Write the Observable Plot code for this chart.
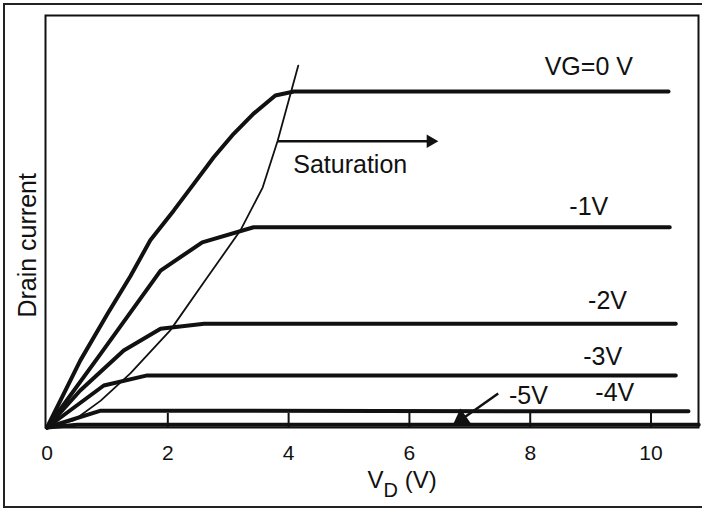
<!DOCTYPE html>
<html><head><meta charset="utf-8">
<script src="https://cdn.jsdelivr.net/npm/d3@7"></script>
<script src="https://cdn.jsdelivr.net/npm/@observablehq/plot@0.6"></script>
<style>
html,body{margin:0;padding:0;background:#fff;}
#wrap{position:relative;width:702px;height:509px;overflow:hidden;background:#fff;}
#wrap svg{position:absolute;left:0;top:0;}
#border{position:absolute;left:3px;top:3px;width:712px;height:505px;border:2px solid #222;box-sizing:border-box;pointer-events:none;}
</style></head><body><div id="wrap"><div id="border"></div></div>
<script>
// Drain characteristics: [VD (V), drain current (relative units)]
const curveVG0 = [[0,0],[0.55,1.99],[1.0,3.38],[1.38,4.5],[1.71,5.57],[2.1,6.46],[2.43,7.25],[2.76,8.04],[3.09,8.74],[3.42,9.34],[3.78,9.88],[4.09,10.0],[10.29,10.0]];
const curveVGm1 = [[0,0],[0.89,2.2],[1.88,4.67],[2.57,5.51],[3.42,5.96],[10.31,5.96]];
const curveVGm2 = [[0,0],[0.55,1.1],[1.27,2.29],[1.88,2.94],[2.6,3.09],[10.41,3.09]];
const curveVGm3 = [[0,0],[0.94,1.25],[1.66,1.55],[10.41,1.55]];
const curveVGm4 = [[0,0],[0.89,0.5],[10.62,0.48]];
const curveVGm5 = [[0,0],[0.5,0.08],[10.79,0.08]];
// saturation boundary (VD,sat)
const boundary = [[0,0],[0.44,0.21],[0.89,0.8],[1.38,1.61],[2.04,2.89],[2.62,4.38],[3.2,5.86],[3.57,7.14],[3.82,8.54],[4.16,10.77]];

const gateNames = ["VG=0 V","-1V","-2V","-3V","-4V","-5V"];
const gateCurves = [curveVG0, curveVGm1, curveVGm2, curveVGm3, curveVGm4, curveVGm5];
// label anchors (data units)
const labelX = [8.97, 8.97, 9.28, 9.2, 9.4, 7.97];
const labelY = [10.48, 6.31, 3.54, 1.85, 0.8, 0.71];

const xTicks = [0, 2, 4, 6, 8, 10];
const satText = {text: "Saturation", x: 5.02, y: 7.56};
const arrows = [
  {x1: 3.82, y1: 8.52, x2: 6.35, y2: 8.52, angle: 90, r: 5},
  {x1: 7.47, y1: 1.01, x2: 6.86, y2: 0.24, angle: 235, r: 7}
];

const rows = gateNames.flatMap((g, i) => gateCurves[i].map(([vd, id]) => ({gate: g, vd, id})));
const labels = gateNames.map((g, i) => ({text: g, x: labelX[i], y: labelY[i]}));
const ink = "#111";

const chart = Plot.plot({
  width: 702, height: 509,
  marginLeft: 45, marginTop: 15, marginRight: 4, marginBottom: 82,
  style: {fontFamily: "'Liberation Sans', Arial, Helvetica, sans-serif", background: "transparent", color: ink},
  x: {domain: [-0.025, 10.786], axis: null},
  y: {domain: [0, 12.26], axis: null},
  r: {type: "identity"},
  marks: [
    Plot.line(rows, {x: "vd", y: "id", z: "gate", stroke: ink, strokeWidth: 4, strokeLinejoin: "round"}),
    Plot.line(boundary, {x: d => d[0], y: d => d[1], stroke: ink, strokeWidth: 1.8}),
    Plot.frame({stroke: ink, strokeWidth: 2}),
    Plot.ruleX(xTicks.filter(t => t > 0), {y1: 0, y2: 0.42, stroke: ink, strokeWidth: 2}),
    Plot.axisX(xTicks, {tickSize: 0, tickPadding: 18, fontSize: 21, label: null, fill: ink}),
    Plot.text(labels, {x: "x", y: "y", text: "text", fontSize: 25, lineAnchor: "bottom", fill: ink}),
    Plot.text([satText], {x: "x", y: "y", text: "text", fontSize: 25, lineAnchor: "bottom", fill: ink}),
    Plot.link(arrows, {x1: "x1", y1: "y1", x2: "x2", y2: "y2", stroke: ink, strokeWidth: 2.5}),
    Plot.dot(arrows, {x: "x2", y: "y2", r: "r", rotate: "angle", symbol: "triangle", fill: ink, stroke: "none"}),
    Plot.text(["VD (V)"], {x: 5.88, frameAnchor: "bottom", dy: 60, textAnchor: "middle", lineAnchor: "bottom", fontSize: 24, fill: ink}),
    Plot.text(["Drain current"], {y: 5.42, frameAnchor: "left", dx: -10, rotate: -90, textAnchor: "middle", lineAnchor: "bottom", fontSize: 25, fill: ink})
  ]
});
// subscript D in the x label
d3.select(chart).selectAll("text").filter(function () { return this.textContent === "VD (V)"; }).each(function () {
  const t = d3.select(this);
  t.text(null);
  t.append("tspan").text("V");
  t.append("tspan").attr("dy", 9).attr("font-size", 20).text("D");
  t.append("tspan").attr("dy", -9).text(" (V)");
});
document.getElementById("wrap").prepend(chart);
</script>
</body></html>
